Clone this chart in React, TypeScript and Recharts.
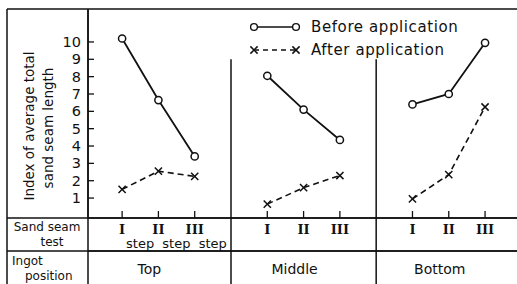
import { Legend, Line, LineChart, ReferenceLine, XAxis, YAxis } from 'recharts';

const steps = ['I', 'II', 'III'];
const positions = ['Top', 'Middle', 'Bottom'];

const beforeTop = [10.2, 6.65, 3.4];
const beforeMiddle = [8.05, 6.1, 4.35];
const beforeBottom = [6.4, 7.0, 9.95];

const afterTop = [1.5, 2.55, 2.25];
const afterMiddle = [0.65, 1.6, 2.3];
const afterBottom = [0.95, 2.35, 6.25];

const yTicks = [1, 2, 3, 4, 5, 6, 7, 8, 9, 10];

const before = [beforeTop, beforeMiddle, beforeBottom];
const after = [afterTop, afterMiddle, afterBottom];

// every panel gets its three steps plus one empty slot where the divider sits
const SLOTS = steps.length + 1;

const data = positions.flatMap((pos, p) =>
  steps.map((_, s) => ({
    slot: p * SLOTS + s,
    [`before${pos}`]: before[p][s],
    [`after${pos}`]: after[p][s],
  })),
);

const stepTicks = data.map((d) => d.slot);
const panelCenters = positions.map((_, p) => p * SLOTS + 1);
const dividers = positions.slice(1).map((_, p) => (p + 1) * SLOTS - 1);

const W = 517;
const H = 284;
const LEFT = 88;
const TOP = 9;
const ROW = 33;
const FRAME_X = 7;
const INK = '#111';
const FONT = '"DejaVu Sans", sans-serif';
const X_DOMAIN: [number, number] = [-0.94, 10.88];

function CircleDot(props: any) {
  const { cx, cy, value, index } = props;
  if (cx == null || cy == null || value == null) return <g key={index} />;
  return <circle key={index} cx={cx} cy={cy} r={3.6} fill="#fff" stroke={INK} strokeWidth={1.5} />;
}

function CrossDot(props: any) {
  const { cx, cy, value, index } = props;
  if (cx == null || cy == null || value == null) return <g key={index} />;
  const r = 3.6;
  return (
    <path
      key={index}
      d={`M${cx - r},${cy - r}L${cx + r},${cy + r}M${cx + r},${cy - r}L${cx - r},${cy + r}`}
      stroke={INK}
      strokeWidth={1.5}
    />
  );
}

function YTick({ x, y, payload }: any) {
  return (
    <g>
      <line x1={x + 7} x2={x + 13} y1={y} y2={y} stroke={INK} strokeWidth={1.3} />
      <text x={x} y={y} textAnchor="end" dominantBaseline="central" fontSize={14.5} fill={INK} fontFamily={FONT}>
        {payload.value}
      </text>
    </g>
  );
}

function StepTick({ x, y, payload }: any) {
  const slot = payload.value as number;
  const panel = Math.floor(slot / SLOTS);
  const step = slot % SLOTS;
  return (
    <g>
      <line x1={x} x2={x} y1={y - 7} y2={y} stroke={INK} strokeWidth={1.3} />
      <text x={x} y={y + 11} textAnchor="middle" dominantBaseline="central" fontSize={13} fill={INK} fontFamily='"DejaVu Serif", serif' fontWeight="bold">
        {steps[step]}
      </text>
      {panel === 0 && (
        <text x={x + 18} y={y + 25} textAnchor="middle" dominantBaseline="central" fontSize={13} fill={INK} fontFamily={FONT}>
          step
        </text>
      )}
    </g>
  );
}

function PositionTick({ x, y, payload }: any) {
  const p = Math.floor((payload.value as number) / SLOTS);
  return (
    <text x={x - 9} y={y + 18} textAnchor="middle" dominantBaseline="central" fontSize={14} fill={INK} fontFamily={FONT}>
      {positions[p]}
    </text>
  );
}

function LegendBox() {
  const rows = [
    { label: 'Before application', dash: undefined, marker: 'circle' },
    { label: 'After application', dash: '5 4', marker: 'cross' },
  ];
  return (
    <div style={{ fontFamily: FONT, fontSize: 15, letterSpacing: 0.6, color: INK }}>
      {rows.map((r) => (
        <div key={r.label} style={{ display: 'flex', alignItems: 'center', height: 23 }}>
          <svg width={54} height={12} style={{ marginRight: 9 }}>
            <line x1={6} x2={48} y1={6} y2={6} stroke={INK} strokeWidth={1.6} strokeDasharray={r.dash} />
            {r.marker === 'circle' ? (
              <>
                <circle cx={6} cy={6} r={3.4} fill="#fff" stroke={INK} strokeWidth={1.4} />
                <circle cx={48} cy={6} r={3.4} fill="#fff" stroke={INK} strokeWidth={1.4} />
              </>
            ) : (
              <>
                <CrossDot cx={6} cy={6} value={1} index={0} />
                <CrossDot cx={48} cy={6} value={1} index={1} />
              </>
            )}
          </svg>
          <span>{r.label}</span>
        </div>
      ))}
    </div>
  );
}

function Frame() {
  return (
    <g stroke={INK} strokeWidth={1.5}>
      <line x1={FRAME_X} x2={W} y1={TOP} y2={TOP} />
      <line x1={FRAME_X} x2={FRAME_X} y1={TOP} y2={H} />
      <line x1={LEFT} x2={LEFT} y1={TOP} y2={H} />
      <line x1={FRAME_X} x2={W} y1={H - 2 * ROW} y2={H - 2 * ROW} />
      <line x1={FRAME_X} x2={W} y1={H - ROW} y2={H - ROW} />
      <g stroke="none" fill={INK} fontFamily={FONT} fontSize={12}>
        <text x={47} y={227} textAnchor="middle" dominantBaseline="central">Sand seam</text>
        <text x={52} y={242} textAnchor="middle" dominantBaseline="central">test</text>
        <text x={12} y={261} dominantBaseline="central">Ingot</text>
        <text x={25} y={276} dominantBaseline="central">position</text>
        <text transform="translate(29,126) rotate(-90)" textAnchor="middle" dominantBaseline="central" fontSize={13.5}>
          Index  of average total
        </text>
        <text transform="translate(48,128) rotate(-90)" textAnchor="middle" dominantBaseline="central" fontSize={13.5}>
          sand seam length
        </text>
      </g>
    </g>
  );
}

export default function App() {
  return (
    <div style={{ width: W, height: H, background: '#fff' }}>
      <style>{'body{margin:0;background:#fff}'}</style>
      <LineChart width={W} height={H} data={data} margin={{ top: TOP, right: 0, bottom: 0, left: 0 }}>
        <XAxis
          dataKey="slot"
          type="number"
          domain={X_DOMAIN}
          allowDataOverflow
          ticks={stepTicks}
          interval={0}
          height={ROW}
          tickSize={0}
          tickMargin={0}
          tick={<StepTick />}
          axisLine={{ stroke: INK, strokeWidth: 1.5 }}
        />
        <XAxis
          xAxisId="pos"
          dataKey="slot"
          type="number"
          domain={X_DOMAIN}
          allowDataOverflow
          ticks={panelCenters}
          interval={0}
          height={ROW}
          tickSize={0}
          tickMargin={0}
          tick={<PositionTick />}
          axisLine={{ stroke: INK, strokeWidth: 1.5 }}
        />
        <YAxis
          type="number"
          domain={[-0.15, 11.9]}
          allowDataOverflow
          ticks={yTicks}
          interval={0}
          width={LEFT}
          tickSize={0}
          tickMargin={7}
          tick={<YTick />}
          axisLine={{ stroke: INK, strokeWidth: 1.5 }}
        />
        {dividers.map((d) => (
          <ReferenceLine
            key={d}
            segment={[{ x: d, y: 9 }, { x: d, y: -4.2 }]}
            ifOverflow="visible"
            stroke={INK}
            strokeWidth={1.5}
          />
        ))}
        {positions.map((pos) => (
          <Line
            key={`before${pos}`}
            dataKey={`before${pos}`}
            stroke={INK}
            strokeWidth={1.8}
            dot={<CircleDot />}
            activeDot={false}
            isAnimationActive={false}
          />
        ))}
        {positions.map((pos) => (
          <Line
            key={`after${pos}`}
            dataKey={`after${pos}`}
            stroke={INK}
            strokeWidth={1.6}
            strokeDasharray="6 4"
            dot={<CrossDot />}
            activeDot={false}
            isAnimationActive={false}
          />
        ))}
        <Frame />
        <Legend
          layout="vertical"
          align="center"
          verticalAlign="middle"
          content={<LegendBox />}
          wrapperStyle={{ top: 15, left: 248, width: 'auto' }}
        />
      </LineChart>
    </div>
  );
}
